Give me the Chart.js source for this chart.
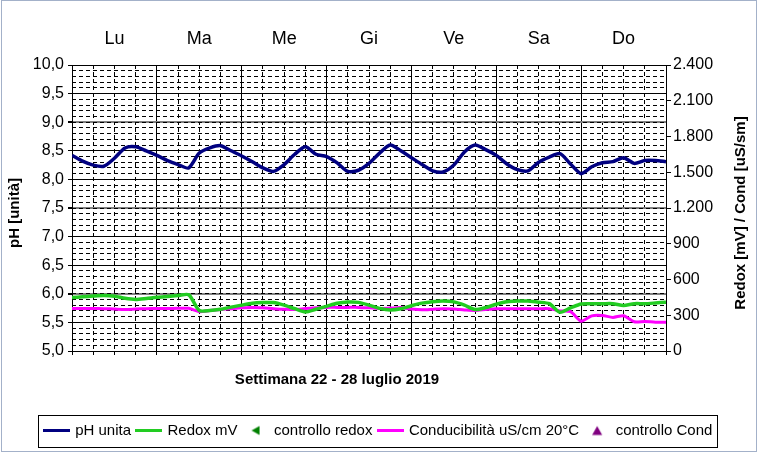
<!DOCTYPE html>
<html><head><meta charset="utf-8">
<script src="https://cdn.jsdelivr.net/npm/chart.js@4.4.1/dist/chart.umd.min.js"></script>
<style>html,body{margin:0;padding:0;background:#fff}#wrap{width:758px;height:456px;position:relative}</style>
</head><body><div id="wrap"><canvas id="c" width="758" height="456"></canvas></div>
<script>
// ---- data (time in hours from Monday 00:00) ----
const hours = [0,3,6,9,12,15,18,21,24,27,30,33,36,39,42,45,48,51,54,57,60,63,66,69,72,75,78,81,84,87,90,93,96,99,102,105,108,111,114,117,120,123,126,129,132,135,138,141,144,147,150,153,156,159,162,165,168];
const dayLabels = ['Lu','Ma','Me','Gi','Ve','Sa','Do'];
const dayCenters = [12,36,60,84,108,132,156];
const dayBoundaries = [0,24,48,72,96,120,144,168];
const phTickValues = [5,5.5,6,6.5,7,7.5,8,8.5,9,9.5,10];
const rightTickValues = [0,300,600,900,1200,1500,1800,2100,2400];
const phValues = [8.42,8.32,8.25,8.23,8.37,8.55,8.57,8.50,8.42,8.33,8.26,8.20,8.46,8.55,8.59,8.50,8.41,8.31,8.20,8.14,8.26,8.44,8.57,8.44,8.40,8.29,8.14,8.16,8.28,8.46,8.60,8.50,8.38,8.26,8.15,8.13,8.25,8.48,8.60,8.52,8.42,8.27,8.17,8.15,8.30,8.39,8.45,8.27,8.10,8.22,8.29,8.31,8.38,8.28,8.33,8.33,8.31];
const redoxValues = [448,455,461,465,460,442,433,441,451,458,465,472,340,340,350,368,385,400,406,407,385,355,328,350,375,400,411,408,385,358,345,355,380,402,414,419,412,385,348,365,392,413,419,419,410,397,326,362,395,397,397,397,382,397,397,403,410];
const condValues = [357,357,357,355,352,349,352,355,357,357,358,358,330,340,348,355,362,366,362,355,350,349,356,362,366,366,366,366,362,357,360,364,352,346,350,355,352,345,340,348,355,355,355,355,355,355,336,330,250,295,298,282,296,245,248,242,242];
const ctrlRedoxValues = [];
const ctrlCondValues = [];
const xTitle = 'Settimana 22 - 28 luglio 2019';
const leftTitle = 'pH [unità]';
const rightTitle = 'Redox [mV] / Cond [uS/sm]';
const grayLines = [6, 7.5, 9];

Chart.defaults.font.family = '"Liberation Sans", Arial, sans-serif';
Chart.defaults.color = '#000';

const pts = arr => arr.map((v,i)=>({x:hours[i], y:v}));
const fmtK = v => String(v).replace(/\B(?=(\d{3})+(?!\d))/g,'.');

// legend symbols
function lineSwatch(color){const c=document.createElement('canvas');c.width=27;c.height=3;const x=c.getContext('2d');x.fillStyle=color;x.fillRect(0,0,27,3);return c;}
function triSwatch(color, dir){const c=document.createElement('canvas');c.width=12;c.height=12;const x=c.getContext('2d');x.fillStyle=color;x.beginPath();
  if(dir==='left'){x.moveTo(2,6);x.lineTo(10,1.5);x.lineTo(10,10.5);}else{x.moveTo(6,1.5);x.lineTo(11,10.5);x.lineTo(1,10.5);}
  x.closePath();x.fill();return c;}

const decor = {
  id:'decor',
  beforeDraw(chart){const c=chart.ctx;c.save();c.fillStyle='#fff';c.fillRect(0,0,chart.width,chart.height);c.restore();},
  afterDraw(chart){
    const c=chart.ctx;
    c.save();
    c.strokeStyle='#a3b1c9';c.lineWidth=1;c.strokeRect(1.5,0.5,755,451);
    const lg=chart.legend, hb=lg.legendHitBoxes;
    const l=Math.min(...hb.map(h=>h.left))-8, r=Math.max(...hb.map(h=>h.left+h.width))+4;
    c.strokeStyle='#000';c.strokeRect(Math.round(l)+0.5,Math.round(lg.top)-0.5,Math.round(r-l),Math.round(lg.height));
    c.fillStyle='#000';c.font='bold 15px "Liberation Sans", Arial, sans-serif';c.textAlign='center';c.textBaseline='middle';
    c.fillText(xTitle,337,380);
    c.save();c.translate(15,213);c.rotate(-Math.PI/2);c.fillText(leftTitle,0,0);c.restore();
    c.save();c.translate(741,213);c.rotate(-Math.PI/2);c.fillText(rightTitle,0,0);c.restore();
    c.restore();
  }
};

new Chart(document.getElementById('c'), {
  type:'line',
  data:{datasets:[
    {label:'pH unita', data:pts(phValues), yAxisID:'y', borderColor:'#000080', backgroundColor:'#000080', borderWidth:3.5, pointRadius:0, pointHoverRadius:0, pointStyle:lineSwatch('#000080'), tension:0.25},
    {label:'Redox mV', data:pts(redoxValues), yAxisID:'y2', borderColor:'#22cc22', backgroundColor:'#22cc22', borderWidth:3.5, pointRadius:0, pointHoverRadius:0, pointStyle:lineSwatch('#22cc22'), tension:0.25},
    {label:'controllo redox', data:pts(ctrlRedoxValues), yAxisID:'y2', showLine:false, borderColor:'#008000', backgroundColor:'#008000', pointStyle:triSwatch('#008000','left'), pointRadius:5},
    {label:'Conducibilità uS/cm 20°C', data:pts(condValues), yAxisID:'y2', borderColor:'#ff00ff', backgroundColor:'#ff00ff', borderWidth:3, pointRadius:0, pointHoverRadius:0, pointStyle:lineSwatch('#ff00ff'), tension:0.25},
    {label:'controllo Cond', data:pts(ctrlCondValues), yAxisID:'y2', showLine:false, borderColor:'#800080', backgroundColor:'#800080', pointStyle:triSwatch('#800080','up'), pointRadius:5}
  ]},
  options:{
    responsive:false, animation:false, devicePixelRatio:1, events:[],
    layout:{padding:{left:0,right:0,top:0,bottom:8}},
    plugins:{
      tooltip:{enabled:false},
      legend:{position:'bottom', labels:{usePointStyle:true, pointStyleWidth:22, boxHeight:8, padding:7, font:{size:15}, color:'#000'}}
    },
    scales:{
      x:{type:'linear', position:'bottom', min:0, max:168,
        afterBuildTicks: ax=>{ax.ticks=dayBoundaries.map(v=>({value:v}));},
        ticks:{display:false, autoSkip:false},
        grid:{color:'#000', lineWidth:1, drawTicks:false},
        border:{display:true, color:'#000', width:1},
        afterFit: s=>{s.height=0;}
      },
      xMinor:{type:'linear', position:'bottom', min:0, max:168,
        ticks:{display:false, stepSize:6, autoSkip:false, maxTicksLimit:100},
        grid:{color:'#000', lineWidth:1, drawTicks:true, tickLength:4, tickColor:'#000'},
        border:{display:false, dash:[4,3]},
        afterFit: s=>{s.height=65;}
      },
      xTop:{type:'linear', position:'top', min:0, max:168,
        afterBuildTicks: ax=>{ax.ticks=dayCenters.map(v=>({value:v}));},
        ticks:{callback:(v,i)=>dayLabels[i], font:{size:18}, color:'#000', padding:15, maxRotation:0, autoSkip:false},
        grid:{display:false, drawTicks:false},
        border:{display:false},
        afterFit: s=>{s.height=65;}
      },
      y:{type:'linear', position:'left', min:5, max:10,
        afterBuildTicks: ax=>{ax.ticks=phTickValues.map(v=>({value:v}));},
        ticks:{callback:v=>v.toFixed(1).replace('.',','), font:{size:16}, color:'#000', padding:4, autoSkip:false},
        grid:{color:c=>(c.tick && grayLines.includes(c.tick.value))?'#808080':'#000', lineWidth:c=>(c.tick && grayLines.includes(c.tick.value))?2:1, tickLength:4, tickColor:'#000'},
        border:{display:true, color:'#000', width:1},
        afterFit: s=>{s.width=72;}
      },
      yMinor:{type:'linear', position:'left', min:5, max:10,
        ticks:{display:false, stepSize:0.1, autoSkip:false, maxTicksLimit:100},
        grid:{color:'#000', lineWidth:1, drawTicks:false},
        border:{display:false, dash:[4,3]},
        afterFit: s=>{s.width=0;}
      },
      y2:{type:'linear', position:'right', min:0, max:2400,
        afterBuildTicks: ax=>{ax.ticks=rightTickValues.map(v=>({value:v}));},
        ticks:{callback:v=>fmtK(v), font:{size:16}, color:'#000', padding:2, autoSkip:false},
        grid:{drawOnChartArea:false, tickLength:5, tickColor:'#000'},
        border:{display:true, color:'#000', width:1},
        afterFit: s=>{s.width=92;}
      }
    }
  },
  plugins:[decor]
});
</script></body></html>
